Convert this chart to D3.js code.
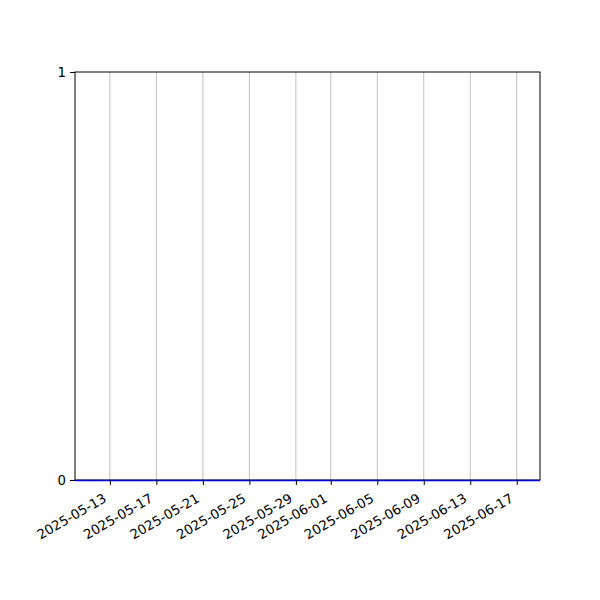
<!DOCTYPE html>
<html>
<head>
<meta charset="utf-8">
<script src="https://cdn.jsdelivr.net/npm/d3@7"></script>
<style>
  body { margin: 0; background: #fff; }
  svg text { font-family: "DejaVu Sans", sans-serif; }
</style>
</head>
<body>
<div id="chart"></div>
<script>
// series: one value per day, all zero
const dates = ["2025-05-10", "2025-05-11", "2025-05-12", "2025-05-13", "2025-05-14",
  "2025-05-15", "2025-05-16", "2025-05-17", "2025-05-18", "2025-05-19", "2025-05-20",
  "2025-05-21", "2025-05-22", "2025-05-23", "2025-05-24", "2025-05-25", "2025-05-26",
  "2025-05-27", "2025-05-28", "2025-05-29", "2025-05-30", "2025-05-31", "2025-06-01",
  "2025-06-02", "2025-06-03", "2025-06-04", "2025-06-05", "2025-06-06", "2025-06-07",
  "2025-06-08", "2025-06-09", "2025-06-10", "2025-06-11", "2025-06-12", "2025-06-13",
  "2025-06-14", "2025-06-15", "2025-06-16", "2025-06-17", "2025-06-18", "2025-06-19"];
const values = [0, 0, 0, 0, 0, 0, 0, 0, 0, 0, 0, 0, 0, 0, 0, 0, 0, 0, 0, 0, 0,
  0, 0, 0, 0, 0, 0, 0, 0, 0, 0, 0, 0, 0, 0, 0, 0, 0, 0, 0, 0];
const xTickLabels = ["2025-05-13", "2025-05-17", "2025-05-21", "2025-05-25", "2025-05-29",
  "2025-06-01", "2025-06-05", "2025-06-09", "2025-06-13", "2025-06-17"];
const yTicks = [0, 1];

const parse = d3.utcParse("%Y-%m-%d");
const data = dates.map((d, i) => ({ date: parse(d), value: values[i] }));

const margin = { top: 72, right: 60, bottom: 120, left: 75 },
      width = 600 - margin.left - margin.right,
      height = 600 - margin.top - margin.bottom;

const svg = d3.select("#chart").append("svg")
    .attr("width", 600)
    .attr("height", 600)
  .append("g")
    .attr("transform", `translate(${margin.left},${margin.top})`);

const x = d3.scaleUtc()
  .domain(d3.extent(data, d => d.date))
  .range([0, width]);

const y = d3.scaleLinear()
  .domain([0, 1])
  .range([height, 0]);

const tickDates = xTickLabels.map(parse);

// vertical grid lines
svg.append("g")
  .selectAll("line")
  .data(tickDates)
  .enter().append("line")
    .attr("x1", d => x(d)).attr("x2", d => x(d))
    .attr("y1", 0).attr("y2", height)
    .style("stroke", "#b0b0b0")
    .style("stroke-width", 0.8);

// frame
svg.append("rect")
  .attr("width", width).attr("height", height)
  .style("fill", "none").style("stroke", "#000").style("stroke-width", 1);

// the series
svg.append("path")
  .datum(data)
  .attr("d", d3.line().x(d => x(d.date)).y(d => y(d.value) + 0.5))
  .style("fill", "none")
  .style("stroke", "#0000dd")
  .style("stroke-width", 1.5);

const xAxis = svg.append("g")
  .attr("transform", `translate(0,${height})`)
  .call(d3.axisBottom(x).tickValues(tickDates).tickFormat(d3.utcFormat("%Y-%m-%d"))
    .tickSize(5).tickPadding(4));
xAxis.select(".domain").remove();
xAxis.selectAll("text")
  .style("font-family", "'DejaVu Sans', sans-serif")
  .style("font-size", "13.3px")
  .style("fill", "#000")
  .attr("text-anchor", "end")
  .attr("x", 0)
  .attr("y", 0)
  .attr("dy", "0")
  .attr("transform", "translate(-3,21) rotate(-30)");

const yAxis = svg.append("g")
  .call(d3.axisLeft(y).tickValues(yTicks).tickFormat(d3.format("d"))
    .tickSize(5).tickPadding(4));
yAxis.select(".domain").remove();
yAxis.selectAll("text")
  .style("font-family", "'DejaVu Sans', sans-serif")
  .style("font-size", "13.3px")
  .style("fill", "#000");
</script>
</body>
</html>
